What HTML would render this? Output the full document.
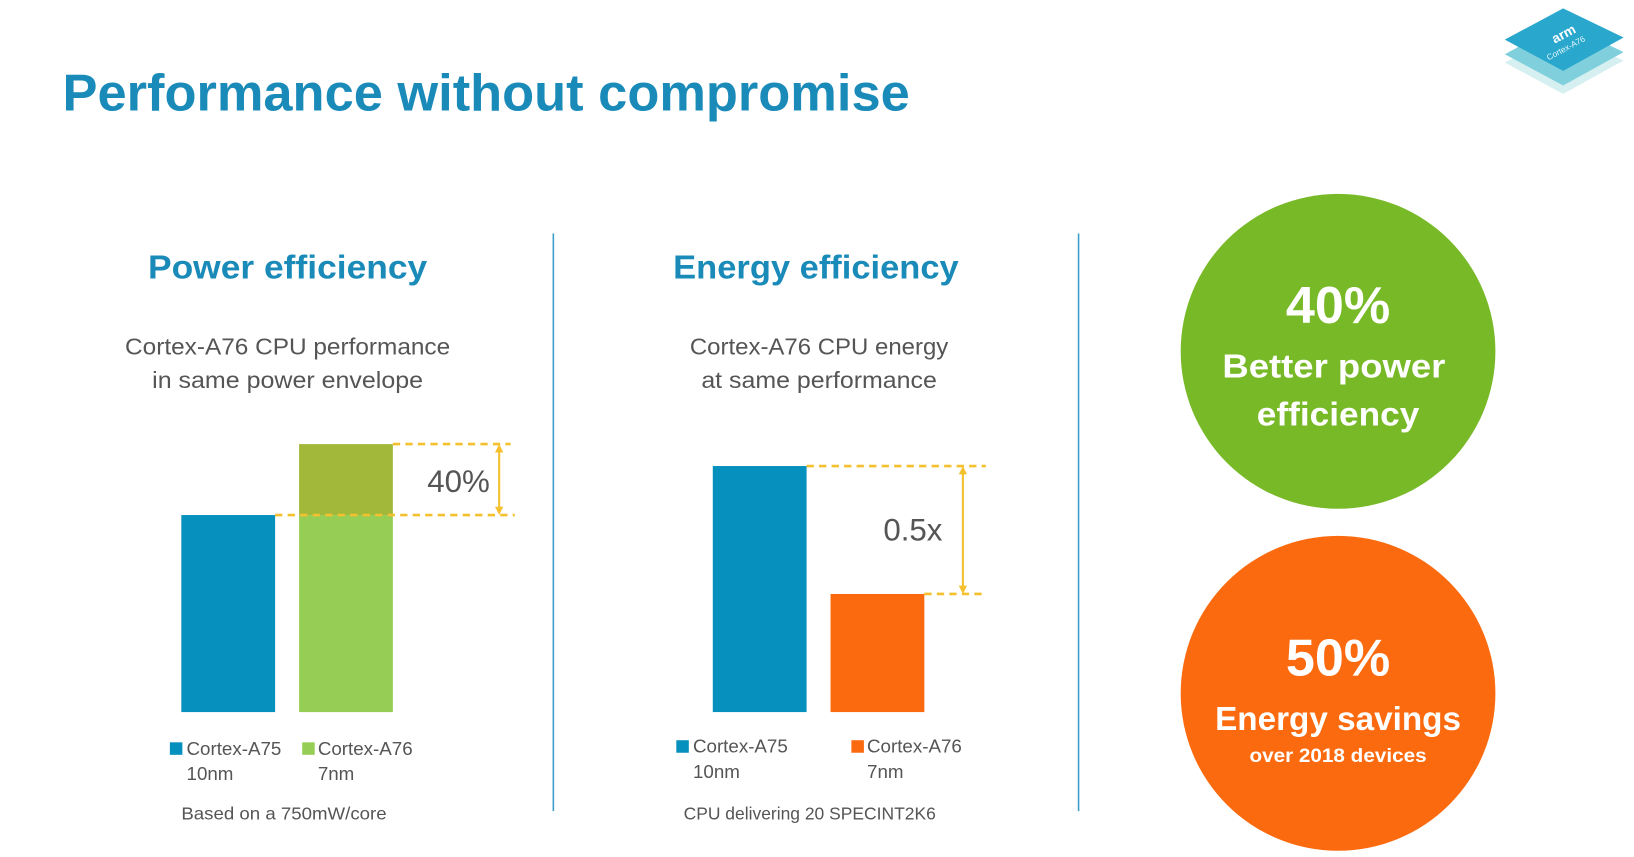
<!DOCTYPE html>
<html><head><meta charset="utf-8"><style>
html,body{margin:0;padding:0;background:#fff;width:1634px;height:857px;overflow:hidden}
svg{display:block}
text{font-family:"Liberation Sans",sans-serif}
</style></head><body>
<svg id="s" width="1634" height="857" viewBox="0 0 1568 822" preserveAspectRatio="none" xmlns="http://www.w3.org/2000/svg">
<rect width="1568" height="822" fill="#fff"/>
<g>
<polygon points="1500,32 1558,58 1500,90 1444,60" fill="#d6f0f2"/>
<polygon points="1500,22 1558,50 1500,82 1444,52" fill="#7fd0dc"/>
<polygon points="1500,8 1558,36 1500,68 1444,38" fill="#2aa7cc"/>
<text x="1492" y="42" font-size="13" font-weight="bold" fill="#fff" transform="rotate(-28 1492 42)">arm</text>
<text x="1486" y="58" font-size="8" fill="#e6f7fb" transform="rotate(-28 1486 58)">Cortex-A76</text>
</g>
<text x="60" y="106" font-size="50" font-weight="bold" fill="#1a8bb9" textLength="813" lengthAdjust="spacingAndGlyphs">Performance without compromise</text>
<line x1="531" y1="224" x2="531" y2="778" stroke="#3a9cc8" stroke-width="1.5"/>
<line x1="1035" y1="224" x2="1035" y2="778" stroke="#3a9cc8" stroke-width="1.5"/>
<text x="276" y="267" font-size="32" font-weight="bold" fill="#1a8bb9" text-anchor="middle" textLength="268" lengthAdjust="spacingAndGlyphs">Power efficiency</text>
<text x="783" y="267" font-size="32" font-weight="bold" fill="#1a8bb9" text-anchor="middle" textLength="274" lengthAdjust="spacingAndGlyphs">Energy efficiency</text>
<g font-size="22" fill="#555" text-anchor="middle">
<text x="276" y="340" textLength="312" lengthAdjust="spacingAndGlyphs">Cortex-A76 CPU performance</text>
<text x="276" y="372" textLength="260" lengthAdjust="spacingAndGlyphs">in same power envelope</text>
<text x="786" y="340" textLength="248" lengthAdjust="spacingAndGlyphs">Cortex-A76 CPU energy</text>
<text x="786" y="372" textLength="226" lengthAdjust="spacingAndGlyphs">at same performance</text>
</g>
<g id="left"></g>
<g id="right"></g>
<g font-size="18" fill="#555">
<rect x="163" y="712" width="12" height="12" fill="#0590bd"/>
<text x="179" y="724">Cortex-A75</text>
<text x="179" y="748">10nm</text>
<rect x="290" y="712" width="12" height="12" fill="#96cd55"/>
<text x="305" y="724">Cortex-A76</text>
<text x="305" y="748">7nm</text>
<rect x="649" y="710" width="12" height="12" fill="#0590bd"/>
<text x="665" y="722">Cortex-A75</text>
<text x="665" y="746">10nm</text>
<rect x="817" y="710" width="12" height="12" fill="#fb6a0e"/>
<text x="832" y="722">Cortex-A76</text>
<text x="832" y="746">7nm</text>
<text x="174" y="786" font-size="17" textLength="197" lengthAdjust="spacingAndGlyphs">Based on a 750mW/core</text>
<text x="656" y="786" font-size="17" textLength="242" lengthAdjust="spacingAndGlyphs">CPU delivering 20 SPECINT2K6</text>
</g>
<g>
<circle cx="1284" cy="337" r="151" fill="#78b928"/>
<text x="1284" y="310" font-size="50" font-weight="bold" fill="#fff" text-anchor="middle">40%</text>
<text x="1280" y="362" font-size="32" font-weight="bold" fill="#fff" text-anchor="middle" textLength="214" lengthAdjust="spacingAndGlyphs">Better power</text>
<text x="1284" y="408" font-size="32" font-weight="bold" fill="#fff" text-anchor="middle" textLength="156" lengthAdjust="spacingAndGlyphs">efficiency</text>
</g>
<g>
<circle cx="1284" cy="665" r="151" fill="#fb6a0e"/>
<text x="1284" y="648" font-size="50" font-weight="bold" fill="#fff" text-anchor="middle">50%</text>
<text x="1284" y="700" font-size="32" font-weight="bold" fill="#fff" text-anchor="middle" textLength="236" lengthAdjust="spacingAndGlyphs">Energy savings</text>
<text x="1284" y="731" font-size="19" font-weight="bold" fill="#fff" text-anchor="middle" textLength="170" lengthAdjust="spacingAndGlyphs">over 2018 devices</text>
</g>
</svg>
<script>
const leftCategories = ["Cortex-A75 10nm", "Cortex-A76 7nm"];
const leftValues = [1.0, 1.36];
const leftLabel = "40%";
const rightCategories = ["Cortex-A75 10nm", "Cortex-A76 7nm"];
const rightValues = [1.0, 0.48];
const rightLabel = "0.5x";
const NS = "http://www.w3.org/2000/svg";
function mk(tag, attrs, parent){const e=document.createElementNS(NS,tag);for(const k in attrs)e.setAttribute(k,attrs[k]);parent.appendChild(e);return e;}
function dash(g,x1,x2,y){const l=mk('line',{x1:x1,x2:x2,y1:y,y2:y,stroke:'#f5c02e','stroke-width':2.5,'stroke-dasharray':'7 5'},g);

}
function arrow(g,x,y1,y2){const l=mk('line',{x1:x,x2:x,y1:y1+6,y2:y2-6,stroke:'#f5c02e','stroke-width':2},g);


mk('polygon',{points:`${x-4},${y1+8} ${x+4},${y1+8} ${x},${y1}`,fill:'#f5c02e'},g);
mk('polygon',{points:`${x-4},${y2-8} ${x+4},${y2-8} ${x},${y2}`,fill:'#f5c02e'},g);}
// left chart
(function(){
 const g=document.getElementById('left');
 const base=683, unit=189, xs=[174,287], w=90;
 const y=v=>base-v*unit;
 const b0=mk('rect',{x:xs[0],y:y(leftValues[0]),width:w,height:base-y(leftValues[0]),fill:'#0590bd'},g);
 
 
 const b1=mk('rect',{x:xs[1],y:y(leftValues[0]),width:w,height:base-y(leftValues[0]),fill:'#96cd55'},g);
 
 
 const b2=mk('rect',{x:xs[1],y:y(leftValues[1]),width:w,height:y(leftValues[0])-y(leftValues[1]),fill:'#a2b83a'},g);
 
 
 dash(g,xs[1]+w,490,y(leftValues[1]));
 dash(g,xs[0]+w,494,y(leftValues[0]));
 arrow(g,479,y(leftValues[1]),y(leftValues[0]));
 const t=mk('text',{x:440,y:(y(leftValues[1])+y(leftValues[0]))/2+12,'font-size':30,fill:'#555','text-anchor':'middle'},g);
 t.textContent=leftLabel;
 
 
})();
// right chart
(function(){
 const g=document.getElementById('right');
 const base=683, unit=236, xs=[684,797], w=90, cols=['#0590bd','#fb6a0e'];
 const y=v=>base-v*unit;
 rightValues.forEach((v,i)=>{
  const b=mk('rect',{x:xs[i],y:y(v),width:w,height:base-y(v),fill:cols[i]},g);
  
  
 });
 dash(g,xs[0]+w,946,y(rightValues[0]));
 dash(g,xs[1]+w,946,y(rightValues[1]));
 arrow(g,924,y(rightValues[0]),y(rightValues[1]));
 const t=mk('text',{x:876,y:(y(rightValues[0])+y(rightValues[1]))/2+10,'font-size':30,fill:'#555','text-anchor':'middle'},g);
 t.textContent=rightLabel;
 
 
})();
</script>
</body></html>
